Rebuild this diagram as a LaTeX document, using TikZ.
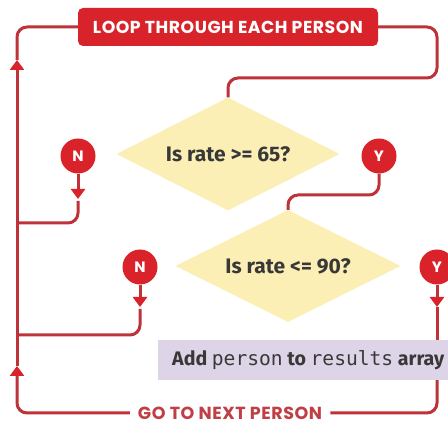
\documentclass[tikz,border=0pt]{standalone}
\usepackage{fontspec}
\setmainfont{Fira Sans}
\newfontfamily\headfont[LetterSpace=3]{Poppins}
\newfontfamily\codefont{DejaVu Sans Mono}
\usetikzlibrary{shapes.geometric,arrows.meta}
\definecolor{linered}{HTML}{BE3239}
\definecolor{circred}{HTML}{D9222A}
\definecolor{boxred}{HTML}{D8232A}
\definecolor{diayel}{HTML}{FBEFB6}
\definecolor{addlil}{HTML}{DDD5E7}
\definecolor{txtdark}{HTML}{383838}
\definecolor{nextred}{HTML}{BF3F45}
\tikzset{
  conn/.style={draw=linered, line width=3pt, rounded corners=10pt},
  tipconn/.style={draw=linered, line width=3pt, rounded corners=10pt,
    -{Triangle[width=14pt,length=10pt,color=circred]}},
  yn/.style={circle, fill=circred, minimum size=35pt, inner sep=0pt,
    text=white, font=\headfont\bfseries\fontsize{15}{15}\selectfont},
  decision/.style={diamond, fill=diayel, inner sep=0pt, aspect=2,
    text=txtdark, font=\bfseries\fontsize{21}{21}\selectfont},
  loopbox/.style={fill=boxred, rounded corners=5pt, minimum width=300pt,
    minimum height=38pt, inner sep=0pt, text=white,
    font=\headfont\bfseries\fontsize{17.3}{17.3}\selectfont},
  addbox/.style={fill=addlil, minimum height=40pt, inner xsep=14pt,
    inner ysep=0pt, text=txtdark, font=\bfseries\fontsize{19.6}{19.6}\selectfont},
  nextlabel/.style={fill=white, inner xsep=8pt, inner ysep=2pt, text=nextred,
    font=\headfont\bfseries\fontsize{17.5}{17.5}\selectfont}
}
\begin{document}
\begin{tikzpicture}[x=1pt,y=1pt]
\useasboundingbox (0,-425) rectangle (448,0);
\clip (0,-425) rectangle (448,0);
\fill[white] (0,-425) rectangle (448,0);
% nodes
\node[loopbox] (loop) at (228,-27) {LOOP THROUGH EACH PERSON};
\node[decision, minimum width=223pt, minimum height=113pt] (d1) at (228,-154) {Is rate >= 65?};
\node[decision, minimum width=225pt, minimum height=112pt] (d2) at (288,-266) {Is rate <= 90?};
\node[yn] (n1) at (78,-156) {N};
\node[yn] (y1) at (379,-156) {Y};
\node[yn] (n2) at (140,-267) {N};
\node[yn] (y2) at (437,-267) {Y};
\node[addbox, anchor=west] (add) at (158,-360) {Add {\codefont\mdseries person} to {\codefont\mdseries results} array};
\node[nextlabel] (next) at (230,-413) {GO TO NEXT PERSON};
% corner and arrow coordinates
\coordinate (tl) at (17,-27);
\coordinate (bl) at (17,-413);
\coordinate (tr) at (437,-27);
\coordinate (br) at (437,-413);
\coordinate (j1) at (17,-223);
\coordinate (j2) at (17,-335);
\coordinate (la1) at (17,-366);
\coordinate (la2) at (17,-60);
\coordinate (na1) at (78,-199);
\coordinate (na2) at (140,-307);
\coordinate (ya2) at (437,-307);
% connectors
\draw[tipconn] (next.west) -- (bl) -- (la1);
\draw[tipconn] (la1) -- (la2);
\draw[conn] (la2) -- (tl) -- (loop.west);
\draw[conn] (loop.east) -- (tr) -- (437,-78) -- (d1.north |- 0,-78) -- (d1.north);
\draw[conn] (y1.south) -- (y1.south |- 0,-195) -- (d2.north |- 0,-195) -- (d2.north);
\draw[tipconn] (n1.south) -- (na1);
\draw[conn] (na1) ++(0,-2) -- (n1.south |- j1) -- (j1);
\draw[tipconn] (n2.south) -- (na2);
\draw[conn] (na2) ++(0,-2) -- (n2.south |- j2) -- (j2);
\draw[tipconn] (y2.south) -- (ya2);
\draw[conn] (ya2) -- (y2.south |- add.north);
\draw[conn] (y2.south |- add.south) -- (br) -- (next.east);
\end{tikzpicture}
\end{document}
